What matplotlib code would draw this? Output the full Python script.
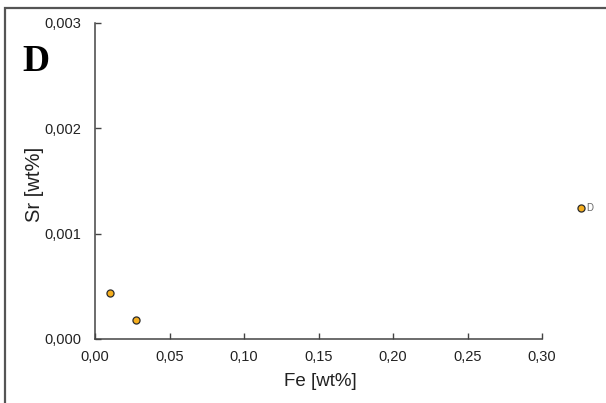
import matplotlib
matplotlib.use("Agg")
import matplotlib.pyplot as plt
from matplotlib.patches import Rectangle
from matplotlib.ticker import FuncFormatter

fe = [0.010, 0.0275, 0.326]
sr = [0.00044, 0.00018, 0.00124]
point_labels = ["", "", "D"]
xticks = [0.00, 0.05, 0.10, 0.15, 0.20, 0.25, 0.30]
yticks = [0.000, 0.001, 0.002, 0.003]

plt.rcParams['font.family'] = ['Liberation Sans', 'DejaVu Sans']

fig = plt.figure(figsize=(6.06, 4.03), dpi=100)
fig.patch.set_facecolor('white')
ax = fig.add_axes([95/606, 1-339/403, (542-95)/606, (339-23)/403])
ax.set_facecolor('white')
ax.patch.set_alpha(0)

# outer frame
fig.patches.append(Rectangle((5/606, -0.02), 1.1, 1-8/403+0.02, transform=fig.transFigure,
                             fill=False, edgecolor='#555555', lw=1.6, clip_on=False))

ax.scatter(fe, sr, s=26, facecolor='#F5AE1E', edgecolor='#2b2b2b', linewidth=0.9, zorder=3, clip_on=False)
for x, y, t in zip(fe, sr, point_labels):
    if t:
        ax.annotate(t, (x, y), xytext=(4, 0), textcoords='offset points', va='center', ha='left',
                    fontsize=7, color='#666666', annotation_clip=False)

ax.set_xlim(0, 0.30)
ax.set_ylim(0, 0.003)
ax.set_xticks(xticks)
ax.set_yticks(yticks)
ax.xaxis.set_major_formatter(FuncFormatter(lambda v, p: f"{v:.2f}".replace('.', ',')))
ax.yaxis.set_major_formatter(FuncFormatter(lambda v, p: f"{v:.3f}".replace('.', ',')))
for s in ['top', 'right']:
    ax.spines[s].set_visible(False)
for s in ['left', 'bottom']:
    ax.spines[s].set_color('#444444')
    ax.spines[s].set_linewidth(1.1)
ax.tick_params(direction='in', length=4, width=1.0, color='#444444', labelsize=10.5, labelcolor='#222222')
ax.tick_params(axis='x', pad=8)
ax.tick_params(axis='y', pad=10)

fig.text(320/606, 1-381/403, "Fe [wt%]", ha='center', va='center', fontsize=13.5, color='#222222')
fig.text(34/606, 1-184/403, "Sr [wt%]", ha='center', va='center', rotation=90, fontsize=14.5, color='#222222')
fig.text(22/606, 1-71/403, "D", ha='left', va='baseline', fontsize=27, fontweight='bold',
         family=['Liberation Serif', 'DejaVu Serif'], color='black')

fig.savefig("out.png", dpi=100)
